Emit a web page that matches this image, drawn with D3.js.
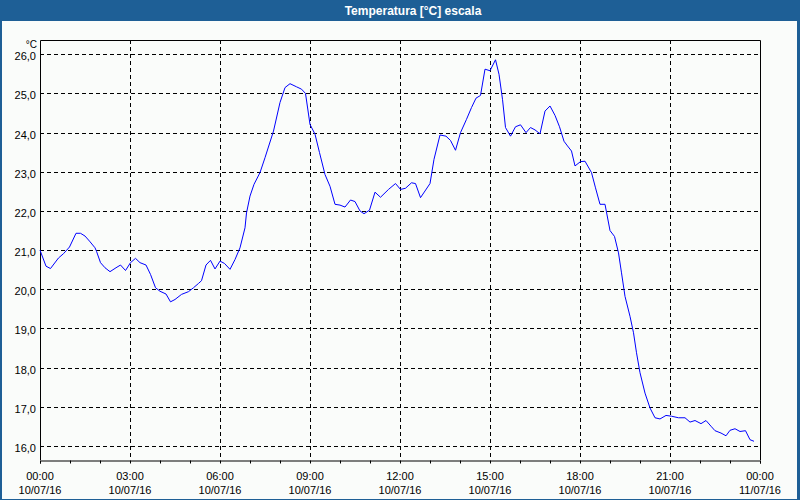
<!DOCTYPE html>
<html><head><meta charset="utf-8">
<script src="https://cdn.jsdelivr.net/npm/d3@7/dist/d3.min.js"></script>
<style>
html,body{margin:0;padding:0;background:#fafcfa;}
svg{display:block;}
</style></head>
<body>
<svg id="chart" width="800" height="500"></svg>
<script>
// Time of each reading, minutes after 00:00 on 10/07/16
const minutes = [0,12,21,37,47,59,72,81,90,99,110,113,121,130,140,152,161,171,181,191,200,212,221,231,240,252,261,270,283,297,307,317,323,332,341,350,360,369,380,390,400,410,413,420,428,440,450,467,480,490,500,513,523,531,540,550,559,570,580,590,600,610,621,630,640,648,659,670,681,697,711,721,731,743,751,761,770,780,788,800,812,821,831,841,853,863,872,881,890,900,911,918,925,931,941,951,961,972,981,990,1000,1010,1020,1030,1039,1048,1055,1063,1070,1081,1090,1103,1111,1120,1130,1140,1149,1157,1163,1170,1180,1187,1193,1200,1210,1220,1230,1240,1252,1263,1277,1290,1300,1310,1322,1332,1343,1350,1362,1372,1380,1390,1400,1411,1420,1428];
// Temperature readings [°C]
const temps = [21.0,20.59,20.53,20.80,20.91,21.08,21.43,21.43,21.36,21.23,21.06,20.97,20.68,20.55,20.45,20.55,20.62,20.48,20.68,20.79,20.68,20.62,20.38,20.04,19.95,19.88,19.68,19.74,19.87,19.94,20.04,20.15,20.22,20.62,20.74,20.52,20.72,20.66,20.51,20.76,21.06,21.57,21.95,22.38,22.68,22.98,23.36,24.04,24.77,25.15,25.25,25.17,25.11,25.0,24.21,23.96,23.49,22.93,22.63,22.17,22.15,22.10,22.28,22.24,22.0,21.93,22.02,22.48,22.35,22.55,22.70,22.55,22.58,22.72,22.70,22.34,22.51,22.70,23.32,23.94,23.91,23.80,23.55,24.0,24.34,24.64,24.88,24.95,25.62,25.58,25.86,25.49,24.85,24.13,23.91,24.15,24.20,24.0,24.13,24.07,23.97,24.55,24.68,24.44,24.15,23.78,23.66,23.53,23.15,23.26,23.27,22.98,22.59,22.17,22.17,21.5,21.35,20.93,20.42,19.82,19.31,18.89,18.38,17.87,17.35,16.97,16.72,16.69,16.78,16.76,16.72,16.72,16.61,16.65,16.57,16.65,16.49,16.39,16.33,16.26,16.40,16.44,16.37,16.39,16.16,16.12];

const yTicks = [16,17,18,19,20,21,22,23,24,25,26];
const xTickHours = [0,3,6,9,12,15,18,21,24];
const xTimeLabels = ["00:00","03:00","06:00","09:00","12:00","15:00","18:00","21:00","00:00"];
const xDateLabels = ["10/07/16","10/07/16","10/07/16","10/07/16","10/07/16","10/07/16","10/07/16","10/07/16","11/07/16"];
const title = "Temperatura [°C] escala";
const unit = "°C";

const W = 800, H = 500;
const L = 40, R = 760, T = 40, B = 460;
const svg = d3.select("#chart");

// window frame
svg.append("rect").attr("x",0).attr("y",0).attr("width",W).attr("height",H).attr("fill","#1e5f96");
svg.append("rect").attr("x",2).attr("y",21).attr("width",W-5).attr("height",H-22).attr("fill","#fafcfa");
svg.append("text").attr("x",413).attr("y",15).attr("text-anchor","middle")
  .attr("font-family","Liberation Sans, Arial, sans-serif").attr("font-weight","bold")
  .attr("font-size","12px").attr("fill","#ffffff").text(title);

const x = d3.scaleLinear().domain([0, 24*60]).range([L, R]);
const y = d3.scaleLinear().domain([15.642, 26.365]).range([B, T]);

const font = "Liberation Sans, Arial, sans-serif";

// grid lines
const grid = svg.append("g");
grid.selectAll("line.h").data(yTicks).join("line")
  .attr("x1",L).attr("x2",R)
  .attr("y1",d=>Math.round(y(d))+0.5).attr("y2",d=>Math.round(y(d))+0.5)
  .attr("stroke","#000").attr("stroke-width",1).attr("stroke-dasharray","4,3");
grid.selectAll("line.v").data(xTickHours.slice(1,-1)).join("line")
  .attr("y1",T).attr("y2",B)
  .attr("x1",d=>Math.round(x(d*60))+0.5).attr("x2",d=>Math.round(x(d*60))+0.5)
  .attr("stroke","#000").attr("stroke-width",1).attr("stroke-dasharray","4,3");

// frame
svg.append("path").attr("d",`M${L+0.5},${B}V${T+0.5}H${R+0.5}V${B}`)
  .attr("fill","none").attr("stroke","#000").attr("stroke-width",1);

// x axis with hourly ticks
const xAxis = d3.axisBottom(x).tickValues(d3.range(0,25).map(h=>h*60)).tickSize(3).tickFormat("");
const gx = svg.append("g").attr("transform",`translate(0,${B+0.5})`).call(xAxis);
gx.select(".domain").attr("stroke","#000");
gx.selectAll(".tick line").attr("stroke","#000");

// x labels
const xl = svg.append("g").attr("font-family",font).attr("font-size","11px").attr("fill","#000");
xl.selectAll("text.t").data(xTickHours).join("text")
  .attr("x",d=>x(d*60)).attr("y",480).attr("text-anchor","middle").text((d,i)=>xTimeLabels[i]);
xl.selectAll("text.d").data(xTickHours).join("text")
  .attr("x",d=>x(d*60)).attr("y",494).attr("text-anchor","middle").text((d,i)=>xDateLabels[i]);

// y labels
const yl = svg.append("g").attr("font-family",font).attr("font-size","11px").attr("fill","#000");
yl.selectAll("text").data(yTicks).join("text")
  .attr("x",36).attr("y",d=>y(d)+6).attr("text-anchor","end")
  .text(d=>d3.format(".1f")(d).replace(".",","));
yl.append("text").attr("x",37).attr("y",48).attr("font-size","10px").attr("text-anchor","end").text(unit);

// data line
const data = minutes.map((m,i)=>({m, v: temps[i]}));
const line = d3.line().x(d=>x(d.m)).y(d=>y(d.v));
svg.append("path").datum(data).attr("d",line)
  .attr("fill","none").attr("stroke","#0000ff").attr("stroke-width",1);
</script>
</body></html>
